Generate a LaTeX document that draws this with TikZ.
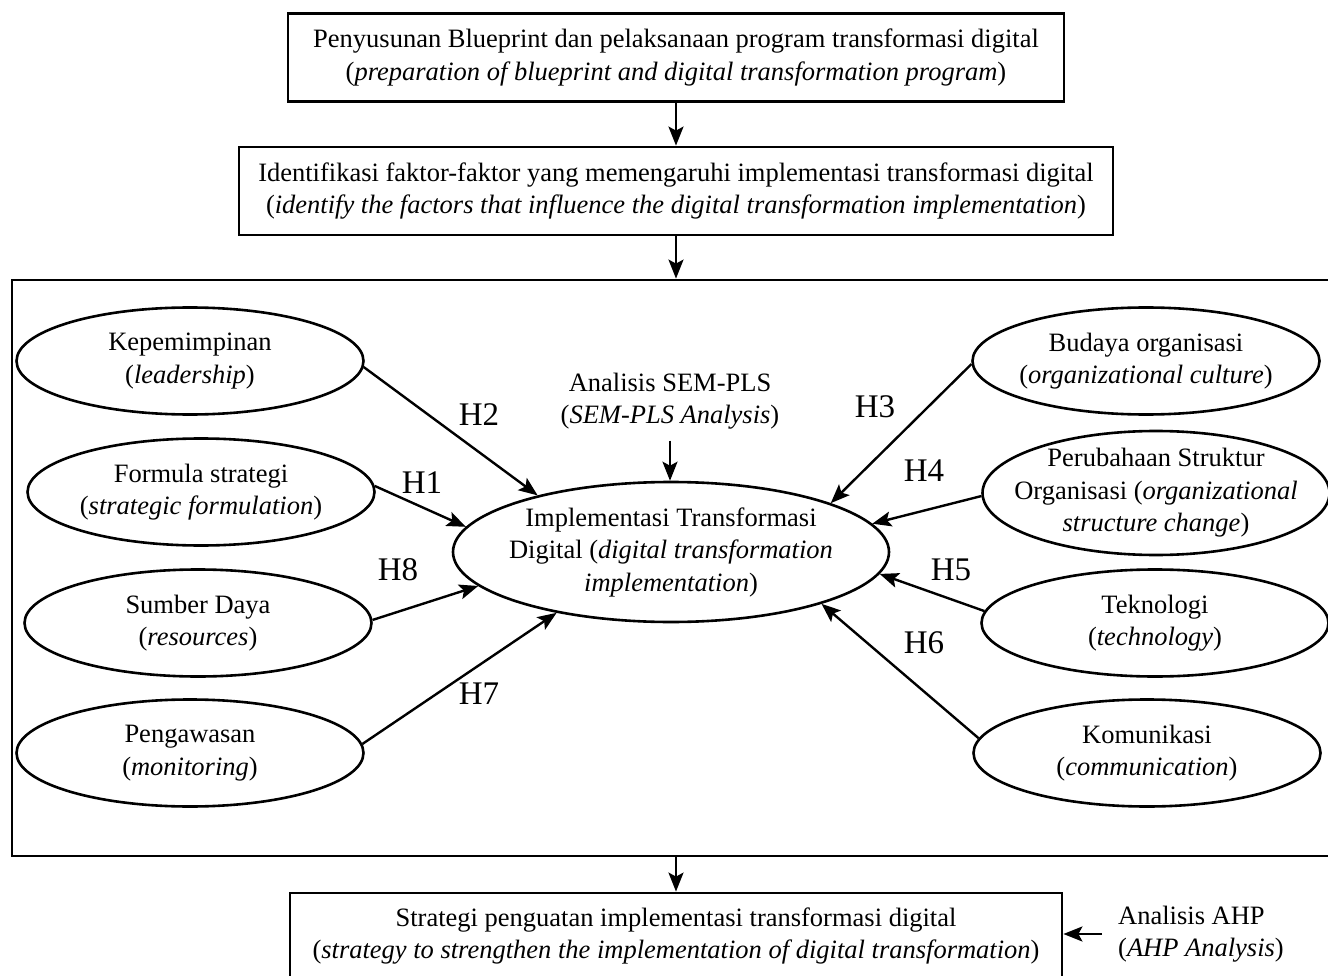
\documentclass[tikz,border=0pt]{standalone}
\usepackage{fontspec}
\setmainfont{Liberation Serif}
\usetikzlibrary{shapes.geometric, arrows.meta, positioning, calc}

\begin{document}
\begin{tikzpicture}[
        x=1pt, y=-1pt,
        every node/.style={font=\fontsize{26.5}{32.5}\selectfont},
        box/.style={rectangle, draw, line width=2.8pt, align=center, inner sep=0pt, minimum height=88pt},
        factor/.style={ellipse, draw, line width=2.6pt, align=center, inner xsep=-60pt, inner ysep=-20pt, minimum width=347pt, minimum height=107pt},
        arr/.style={-{Stealth[length=19pt, width=15pt, inset=4pt]}, line width=2.4pt},
        hyp/.style={font=\fontsize{33}{38}\selectfont, inner sep=0pt}
    ]
        \useasboundingbox (0,0) rectangle (1328,976);

        % flow boxes
        \node[box, minimum width=776pt] (blueprint) at (676,57.5) {Penyusunan Blueprint dan pelaksanaan program transformasi digital\\(\textit{preparation of blueprint and digital transformation program})};
        \node[box, minimum width=874pt] (factors) at (676,191) {Identifikasi faktor-faktor yang memengaruhi implementasi transformasi digital\\(\textit{identify the factors that influence the digital transformation implementation})};
        \node[rectangle, draw, line width=2.8pt, inner sep=0pt, minimum width=1320pt, minimum height=576pt] (model) at (672,568) {};
        \node[box, minimum width=772pt, minimum height=86pt] (strategy) at (676,936) {Strategi penguatan implementasi transformasi digital\\(\textit{strategy to strengthen the implementation of digital transformation})};
        \node[align=left, inner xsep=16pt, inner ysep=0pt, anchor=west] (ahp) at (1102,934) {Analisis AHP\\(\textit{AHP Analysis})};

        % research model
        \node[factor, minimum width=436pt, minimum height=140pt] (impl) at (671,552) {Implementasi Transformasi\\Digital (\textit{digital transformation}\\\textit{implementation})};
        \node[align=center, inner xsep=0pt, inner ysep=11pt] (sem) at (670,401) {Analisis SEM-PLS\\(\textit{SEM-PLS Analysis})};
        \node[factor] (lead) at (190,361) {Kepemimpinan\\(\textit{leadership})};
        \node[factor] (formula) at (201,492) {Formula strategi\\(\textit{strategic formulation})};
        \node[factor] (resource) at (198,623) {Sumber Daya\\(\textit{resources})};
        \node[factor] (monitor) at (190,753) {Pengawasan\\(\textit{monitoring})};
        \node[factor] (culture) at (1146,361) {Budaya organisasi\\(\textit{organizational culture})};
        \node[factor, minimum height=124pt] (structure) at (1156,493) {Perubahaan Struktur\\Organisasi (\textit{organizational}\\\textit{structure change})};
        \node[factor] (tech) at (1155,623) {Teknologi\\(\textit{technology})};
        \node[factor] (comm) at (1147,753) {Komunikasi\\(\textit{communication})};

        % hypothesis labels
        \node[hyp] (h1) at (422,483) {H1};
        \node[hyp] (h2) at (479,415) {H2};
        \node[hyp] (h3) at (875,407) {H3};
        \node[hyp] (h4) at (924,471) {H4};
        \node[hyp] (h5) at (951,570) {H5};
        \node[hyp] (h6) at (924,643) {H6};
        \node[hyp] (h7) at (479,694) {H7};
        \node[hyp] (h8) at (398,570) {H8};

        \draw[arr] (blueprint) -- (factors);
        \draw[arr] (factors) -- (factors.south |- model.north);
        \draw[arr] (model.south -| strategy.north) -- (strategy);
        \draw[arr] (ahp.west) -- (ahp.west -| strategy.east);
        \draw[arr] (sem.south) -- (sem.south |- impl.north);

        \draw[arr] (lead.358) -- (impl.157);
        \draw[arr] (formula.2) -- (impl.173);
        \draw[arr] (resource.1) -- (impl.190);
        \draw[arr] (monitor.3) -- (impl.208);
        \draw[arr] (culture.181) -- (impl.17);
        \draw[arr] (structure.181) -- (impl.8);
        \draw[arr] (tech.176) -- (impl.354);
        \draw[arr] (comm.175) -- (impl.341);
\end{tikzpicture}
\end{document}
